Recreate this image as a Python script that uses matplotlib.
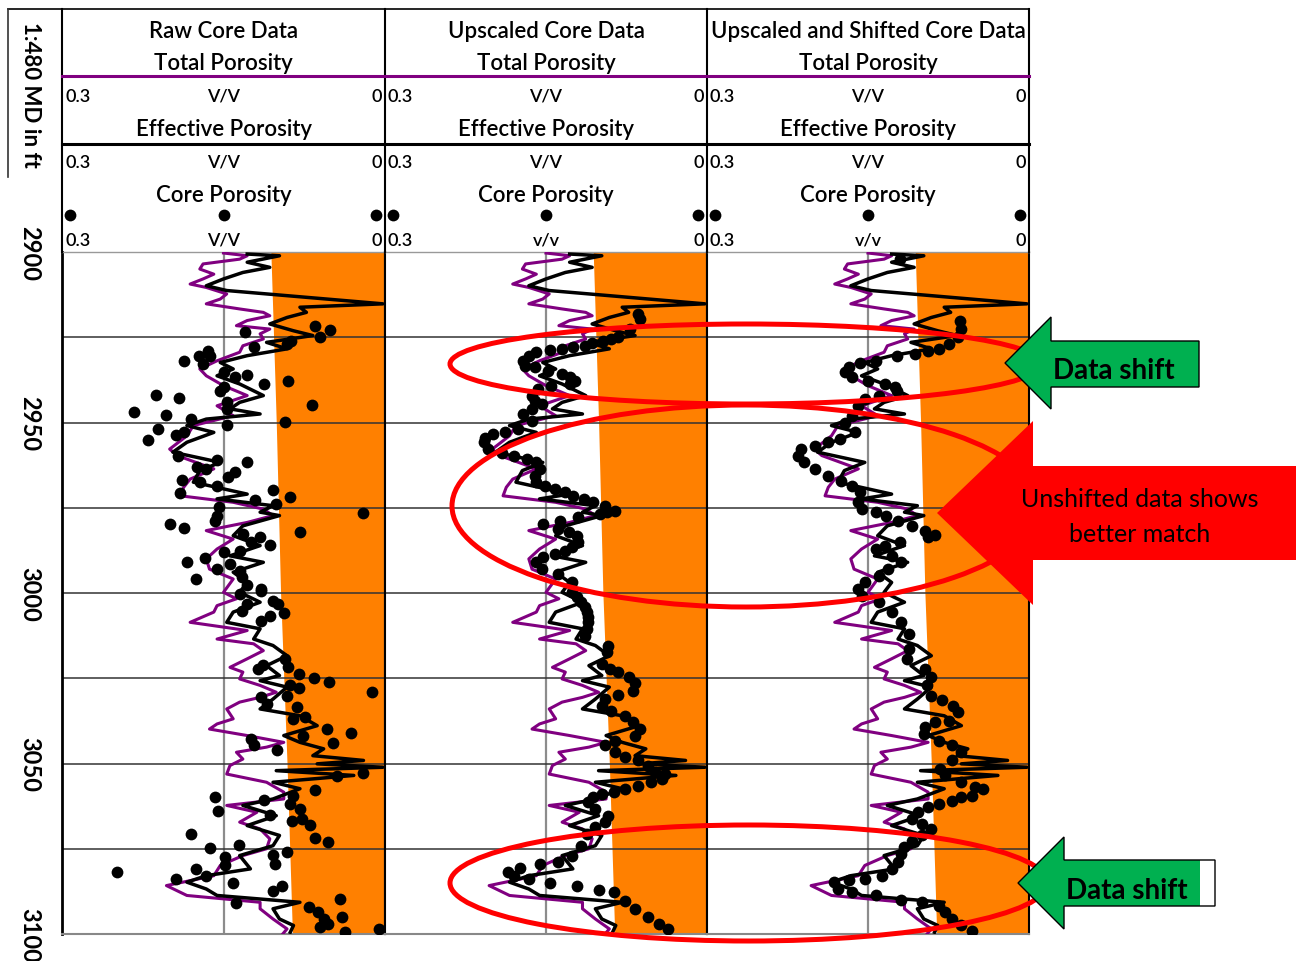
import matplotlib.pyplot as plt
from matplotlib.patches import Ellipse, Polygon, Rectangle

plt.rcParams['font.family'] = ['Lato', 'DejaVu Sans']

W, H = 1296, 962

# total porosity log (purple)
tpor_depth = [2900.3, 2901.1, 2902.1, 2903.5, 2905.0, 2906.5, 2907.9, 2909.4, 2910.4, 2912.3,
              2913.8, 2915.2, 2916.7, 2917.7, 2918.7, 2920.1, 2921.6, 2922.6, 2924.0, 2925.5,
              2927.5, 2929.4, 2931.9, 2934.3, 2936.3, 2939.2, 2942.1, 2945.1, 2948.0, 2950.9,
              2953.9, 2957.8, 2959.7, 2963.6, 2966.6, 2969.0, 2971.5, 2973.4, 2975.4, 2977.3,
              2979.3, 2981.7, 2984.2, 2987.1, 2990.0, 2993.0, 2995.9, 2999.8, 3001.7, 3003.7,
              3005.6, 3008.6, 3010.0, 3011.0, 3013.5, 3014.9, 3016.9, 3019.3, 3021.8, 3023.2,
              3025.2, 3027.1, 3029.1, 3030.6, 3032.0, 3034.0, 3036.9, 3038.4, 3039.9, 3041.8,
              3043.8, 3045.2, 3046.7, 3048.7, 3050.6, 3053.1, 3055.5, 3058.4, 3060.4, 3062.3,
              3064.3, 3067.2, 3069.2, 3072.1, 3075.0, 3077.0, 3079.9, 3082.9, 3085.8, 3088.7,
              3090.7, 3092.6, 3095.6, 3098.5, 3100.0]
tpor = [0.150, 0.128, 0.135, 0.169, 0.172, 0.159, 0.169, 0.181, 0.166, 0.147,
        0.153, 0.166, 0.135, 0.113, 0.107, 0.128, 0.138, 0.107, 0.116, 0.113,
        0.132, 0.135, 0.156, 0.172, 0.166, 0.150, 0.128, 0.156, 0.141, 0.178,
        0.184, 0.200, 0.193, 0.159, 0.181, 0.187, 0.190, 0.141, 0.113, 0.104,
        0.128, 0.166, 0.141, 0.156, 0.166, 0.163, 0.141, 0.150, 0.138, 0.156,
        0.159, 0.181, 0.150, 0.128, 0.156, 0.122, 0.113, 0.128, 0.144, 0.132,
        0.135, 0.116, 0.101, 0.116, 0.135, 0.147, 0.141, 0.156, 0.163, 0.128,
        0.094, 0.110, 0.138, 0.132, 0.144, 0.147, 0.110, 0.094, 0.094, 0.147,
        0.119, 0.135, 0.116, 0.107, 0.110, 0.132, 0.153, 0.159, 0.203, 0.184,
        0.116, 0.116, 0.104, 0.091, 0.095]

# effective porosity log (black)
epor_depth = [2900.6, 2901.1, 2903.0, 2904.5, 2906.0, 2907.9, 2909.9, 2911.3, 2913.8, 2915.2,
              2916.2, 2917.7, 2919.2, 2921.1, 2923.1, 2924.5, 2926.5, 2928.4, 2930.4, 2932.4,
              2934.3, 2936.3, 2938.7, 2942.1, 2944.1, 2946.0, 2947.5, 2949.0, 2950.9, 2952.9,
              2955.8, 2958.7, 2961.7, 2964.1, 2967.5, 2971.0, 2972.4, 2974.4, 2976.3, 2977.3,
              2980.3, 2983.2, 2986.1, 2989.1, 2991.0, 2993.9, 2996.9, 2999.8, 3002.7, 3005.6,
              3008.6, 3010.5, 3013.5, 3015.4, 3018.4, 3021.3, 3024.2, 3025.7, 3027.6, 3031.1,
              3034.0, 3036.0, 3038.9, 3041.8, 3043.8, 3045.7, 3047.7, 3049.1, 3050.1, 3051.1,
              3052.1, 3053.5, 3055.5, 3057.4, 3060.4, 3062.3, 3065.3, 3068.2, 3071.1, 3074.1,
              3077.0, 3080.9, 3082.9, 3084.8, 3086.8, 3088.7, 3090.7, 3092.6, 3095.6, 3097.5,
              3099.5]
epor = [0.128, 0.098, 0.128, 0.107, 0.132, 0.150, 0.166, 0.147, 0.054, 0.002,
        0.079, 0.073, 0.091, 0.107, 0.085, 0.067, 0.110, 0.091, 0.128, 0.153,
        0.141, 0.156, 0.135, 0.113, 0.135, 0.144, 0.116, 0.166, 0.184, 0.159,
        0.184, 0.197, 0.153, 0.172, 0.178, 0.128, 0.156, 0.104, 0.116, 0.098,
        0.132, 0.141, 0.116, 0.144, 0.113, 0.141, 0.128, 0.135, 0.116, 0.141,
        0.147, 0.116, 0.122, 0.104, 0.091, 0.110, 0.098, 0.116, 0.091, 0.104,
        0.116, 0.079, 0.063, 0.094, 0.079, 0.057, 0.067, 0.020, 0.063, 0.002,
        0.101, 0.029, 0.104, 0.079, 0.104, 0.132, 0.101, 0.128, 0.098, 0.104,
        0.135, 0.125, 0.166, 0.184, 0.166, 0.156, 0.079, 0.104, 0.098, 0.085,
        0.088]

# porosity cutoff, shaded towards zero
cutoff_depth = [2900, 2950, 3000, 3050, 3100]
cutoff = [0.106, 0.101, 0.097, 0.091, 0.086]

# raw core plugs
raw_depth = [2923.6, 2928.0, 2921.6, 2922.8, 2925.0, 2927.0, 2926.0, 2928.9, 2930.4, 2931.9,
             2930.6, 2932.8, 2935.1, 2936.8, 2936.1, 2938.7, 2937.9, 2940.7, 2939.7, 2941.8,
             2942.9, 2946.8, 2947.8, 2949.0, 2943.9, 2946.0, 2950.7, 2949.8, 2944.8, 2951.9,
             2955.0, 2953.7, 2952.7, 2959.7, 2960.9, 2961.7, 2963.1, 2963.6, 2966.1, 2964.6,
             2966.9, 2967.5, 2968.7, 2970.8, 2969.7, 2971.9, 2972.6, 2973.9, 2974.9, 2977.3,
             2978.8, 2979.8, 2981.0, 2982.0, 2976.5, 2982.7, 2983.7, 2985.1, 2985.8, 2987.6,
             2988.1, 2990.8, 2989.8, 2993.0, 2991.5, 2993.5, 2995.9, 2995.4, 2997.8, 2998.8,
             2999.3, 3000.3, 3003.2, 3002.2, 3003.2, 3005.8, 3008.1, 3006.6, 3005.2, 3019.5,
             3021.8, 3022.3, 3021.1, 3023.9, 3024.9, 3026.0, 3029.1, 3027.1, 3027.9, 3030.1,
             3030.6, 3032.5, 3033.5, 3036.4, 3036.9, 3039.9, 3041.0, 3041.8, 3044.0, 3042.8,
             3044.7, 3046.0, 3053.7, 3052.9, 3057.9, 3059.4, 3059.9, 3063.8, 3060.7, 3065.0,
             3061.9, 3063.3, 3066.3, 3067.0, 3068.0, 3071.8, 3073.1, 3070.6, 3074.9, 3073.9,
             3077.5, 3076.0, 3076.8, 3079.4, 3079.9, 3080.9, 3081.9, 3082.9, 3083.8, 3085.0,
             3087.3, 3085.8, 3089.7, 3091.0, 3092.2, 3093.6, 3095.6, 3095.1, 3097.0, 3098.0,
             3099.5, 3098.5]
raw_phi = [0.130, 0.122, 0.065, 0.051, 0.060, 0.091, 0.087, 0.164, 0.163, 0.187,
           0.173, 0.169, 0.150, 0.139, 0.128, 0.112, 0.090, 0.153, 0.150, 0.213,
           0.191, 0.233, 0.203, 0.180, 0.147, 0.147, 0.147, 0.093, 0.068, 0.211,
           0.220, 0.194, 0.187, 0.192, 0.156, 0.128, 0.175, 0.166, 0.146, 0.139,
           0.189, 0.172, 0.156, 0.190, 0.104, 0.088, 0.121, 0.101, 0.154, 0.156,
           0.158, 0.200, 0.187, 0.079, 0.020, 0.132, 0.116, 0.124, 0.107, 0.135,
           0.150, 0.184, 0.167, 0.156, 0.144, 0.135, 0.176, 0.133, 0.128, 0.115,
           0.115, 0.135, 0.128, 0.104, 0.099, 0.094, 0.115, 0.107, 0.133, 0.093,
           0.090, 0.118, 0.113, 0.080, 0.066, 0.052, 0.012, 0.088, 0.080, 0.091,
           0.115, 0.110, 0.082, 0.074, 0.085, 0.054, 0.032, 0.076, 0.048, 0.124,
           0.122, 0.100, 0.045, 0.020, 0.065, 0.085, 0.158, 0.155, 0.112, 0.107,
           0.088, 0.079, 0.077, 0.086, 0.070, 0.065, 0.053, 0.180, 0.163, 0.136,
           0.149, 0.091, 0.104, 0.102, 0.149, 0.176, 0.249, 0.166, 0.194, 0.141,
           0.104, 0.096, 0.042, 0.138, 0.071, 0.062, 0.057, 0.040, 0.053, 0.060,
           0.037, 0.006]

# upscaled core
up_depth = [2918.2, 2919.6, 2922.6, 2925.0, 2925.5, 2926.0, 2926.7, 2927.5, 2928.0, 2928.4,
            2928.6, 2929.4, 2930.4, 2931.9, 2933.3, 2933.8, 2934.8, 2935.8, 2936.8, 2937.7,
            2938.7, 2939.2, 2940.2, 2942.1, 2943.6, 2944.6, 2946.0, 2947.5, 2949.5, 2951.9,
            2952.7, 2953.4, 2954.4, 2955.8, 2957.8, 2958.9, 2959.7, 2960.7, 2961.7, 2963.6,
            2965.6, 2967.5, 2968.7, 2969.5, 2970.5, 2971.7, 2972.4, 2973.2, 2974.4, 2975.9,
            2976.3, 2976.8, 2977.6, 2978.8, 2979.8, 2981.2, 2982.2, 2983.2, 2985.1, 2986.6,
            2987.6, 2988.6, 2989.5, 2991.0, 2993.0, 2994.4, 2996.9, 2999.8, 3001.2, 3002.7,
            3004.2, 3005.6, 3007.1, 3008.6, 3010.5, 3012.5, 3015.4, 3017.4, 3020.8, 3022.3,
            3023.2, 3024.7, 3026.4, 3028.6, 3029.9, 3031.1, 3033.0, 3034.5, 3036.0, 3037.9,
            3039.9, 3041.8, 3043.3, 3044.7, 3046.7, 3048.2, 3049.1, 3050.6, 3052.4, 3053.1,
            3054.5, 3055.5, 3056.5, 3057.4, 3058.4, 3058.9, 3059.9, 3061.4, 3063.3, 3065.3,
            3067.2, 3068.7, 3070.6, 3074.1, 3077.0, 3079.0, 3079.4, 3080.7, 3081.9, 3082.9,
            3083.8, 3085.0, 3085.8, 3087.0, 3087.8, 3090.2, 3092.6, 3095.1, 3097.0, 3098.5]
up_phi = [0.064, 0.062, 0.072, 0.083, 0.089, 0.097, 0.107, 0.114, 0.125, 0.135,
          0.146, 0.159, 0.166, 0.171, 0.170, 0.160, 0.148, 0.135, 0.128, 0.123,
          0.128, 0.145, 0.157, 0.163, 0.160, 0.154, 0.163, 0.171, 0.163, 0.176,
          0.188, 0.199, 0.207, 0.208, 0.204, 0.191, 0.180, 0.168, 0.159, 0.156,
          0.160, 0.159, 0.151, 0.142, 0.132, 0.125, 0.115, 0.106, 0.095, 0.086,
          0.093, 0.100, 0.120, 0.137, 0.153, 0.139, 0.129, 0.121, 0.120, 0.126,
          0.132, 0.142, 0.153, 0.159, 0.154, 0.139, 0.126, 0.126, 0.121, 0.117,
          0.114, 0.112, 0.111, 0.111, 0.112, 0.114, 0.092, 0.093, 0.098, 0.090,
          0.083, 0.073, 0.067, 0.069, 0.083, 0.095, 0.098, 0.089, 0.076, 0.069,
          0.062, 0.067, 0.086, 0.095, 0.086, 0.076, 0.064, 0.055, 0.048, 0.039,
          0.042, 0.052, 0.064, 0.076, 0.087, 0.098, 0.106, 0.111, 0.104, 0.092,
          0.095, 0.104, 0.112, 0.117, 0.126, 0.139, 0.156, 0.174, 0.185, 0.180,
          0.166, 0.146, 0.121, 0.101, 0.087, 0.076, 0.067, 0.055, 0.045, 0.036]

# upscaled core after depth shift
shift_depth = [2902.1, 2920.1, 2922.6, 2925.0, 2927.0, 2928.3, 2928.9, 2929.9, 2930.6, 2931.9,
               2932.6, 2933.8, 2935.3, 2936.8, 2937.7, 2938.7, 2939.7, 2940.7, 2942.1, 2943.1,
               2945.1, 2948.0, 2950.0, 2952.9, 2954.8, 2955.8, 2956.8, 2957.8, 2959.7, 2961.7,
               2963.6, 2965.6, 2967.1, 2968.5, 2970.5, 2973.4, 2975.4, 2976.3, 2977.3, 2978.8,
               2980.3, 2981.7, 2983.0, 2983.7, 2984.9, 2986.1, 2987.1, 2989.1, 2991.0, 2993.0,
               2994.9, 2996.9, 2998.8, 3000.8, 3002.7, 3005.6, 3008.6, 3012.0, 3016.4, 3019.3,
               3022.3, 3024.7, 3027.1, 3030.1, 3031.5, 3033.0, 3035.0, 3037.4, 3037.9, 3039.4,
               3041.3, 3043.3, 3044.7, 3046.7, 3049.1, 3051.6, 3053.5, 3055.5, 3057.0, 3057.4,
               3059.4, 3059.9, 3060.9, 3061.8, 3062.8, 3064.3, 3066.2, 3067.7, 3069.2, 3071.1,
               3072.6, 3074.6, 3076.5, 3079.0, 3080.9, 3082.9, 3083.8, 3084.3, 3084.8, 3086.8,
               3087.8, 3088.7, 3089.9, 3090.7, 3091.7, 3093.6, 3095.6, 3097.5, 3099.0]
shift_phi = [0.120, 0.064, 0.063, 0.066, 0.075, 0.084, 0.094, 0.106, 0.123, 0.143,
             0.157, 0.168, 0.171, 0.165, 0.150, 0.134, 0.125, 0.123, 0.140, 0.153,
             0.159, 0.165, 0.171, 0.162, 0.176, 0.187, 0.199, 0.212, 0.215, 0.210,
             0.199, 0.187, 0.175, 0.165, 0.157, 0.159, 0.156, 0.143, 0.133, 0.122,
             0.109, 0.097, 0.088, 0.094, 0.120, 0.134, 0.143, 0.128, 0.119, 0.131,
             0.140, 0.153, 0.159, 0.156, 0.140, 0.128, 0.119, 0.112, 0.112, 0.114,
             0.097, 0.091, 0.095, 0.091, 0.081, 0.071, 0.066, 0.075, 0.088, 0.097,
             0.098, 0.084, 0.072, 0.063, 0.072, 0.083, 0.078, 0.063, 0.050, 0.043,
             0.053, 0.063, 0.072, 0.084, 0.094, 0.103, 0.109, 0.100, 0.091, 0.100,
             0.109, 0.116, 0.119, 0.122, 0.128, 0.137, 0.153, 0.168, 0.182, 0.178,
             0.165, 0.143, 0.119, 0.100, 0.084, 0.078, 0.072, 0.063, 0.053]

titles = ['Raw Core Data', 'Upscaled Core Data', 'Upscaled and Shifted Core Data']
core_units = ['V/V', 'v/v', 'v/v']
core_sets = [(raw_depth, raw_phi), (up_depth, up_phi), (shift_depth, shift_phi)]
depth_ticks = [2900, 2925, 2950, 2975, 3000, 3025, 3050, 3075, 3100]
depth_labels = ['2900', '', '2950', '', '3000', '', '3050', '', '3100']

edges = [62, 385, 707, 1029]
top_px, bot_px = 253, 935
ORANGE = '#FF8000'
PURPLE = '#800080'

fig = plt.figure(figsize=(W / 100, H / 100), dpi=100)


def px_axes(x0, x1, y0, y1, **kw):
    return fig.add_axes([x0 / W, 1 - y1 / H, (x1 - x0) / W, (y1 - y0) / H], **kw)


for i in range(3):
    ax = px_axes(edges[i], edges[i + 1], top_px, bot_px)
    ax.fill_betweenx(cutoff_depth, cutoff, 0, color=ORANGE, lw=0, zorder=1)
    ax.plot(tpor, tpor_depth, color=PURPLE, lw=2.2, zorder=3)
    ax.plot(epor, epor_depth, color='black', lw=2.5, zorder=4)
    cd, cp = core_sets[i]
    ax.scatter(cp, cd, s=72, color='black', lw=0, zorder=5)
    ax.set_xlim(0.3, 0)
    ax.set_ylim(3100, 2900)
    ax.set_xticks([0.15])
    ax.set_yticks(depth_ticks)
    ax.grid(True, axis='y', color='#333333', lw=1.1)
    ax.grid(True, axis='x', color='#8c8c8c', lw=1.6)
    ax.tick_params(length=0, labelbottom=False, labelleft=False)
    for s in ['left', 'right']:
        ax.spines[s].set_color('black')
        ax.spines[s].set_linewidth(1.5)
    ax.spines['top'].set_color('#999999')
    ax.spines['top'].set_linewidth(1.0)
    ax.spines['bottom'].set_color('#888888')
    ax.spines['bottom'].set_linewidth(1.5)
    if i == 0:
        ax.spines['left'].set_linewidth(2.0)
        ax.set_yticklabels(depth_labels, rotation=270, va='center', ha='center',
                           fontsize=17, fontweight='bold')
        ax.tick_params(axis='y', labelleft=True, pad=23)

# header, annotations
ov = fig.add_axes([0, 0, 1, 1], zorder=10)
ov.set_xlim(0, W)
ov.set_ylim(H, 0)
ov.axis('off')

ov.plot([8, 1029], [10, 10], color='black', lw=1.2)
ov.plot([8, 8], [10, 178], color='#333333', lw=1.2)
for x in edges:
    ov.plot([x, x], [10, top_px], color='black', lw=1.5)
ov.plot([62, 1029], [77, 77], color=PURPLE, lw=2.2)
ov.plot([62, 1029], [145, 145], color='black', lw=2.2)

ov.text(30, 95, '1:480 MD in ft', rotation=270, ha='center', va='center',
        fontsize=16, fontweight='bold')

hdr = dict(ha='center', va='center', fontsize=16, fontweight='semibold')
scale = dict(va='center', fontsize=13, fontweight='semibold')
for i in range(3):
    x0, x1 = edges[i], edges[i + 1]
    xc = (x0 + x1) / 2
    ov.text(xc, 31, titles[i], **hdr)
    ov.text(xc, 63, 'Total Porosity', **hdr)
    ov.text(xc, 130, 'Effective Porosity', **hdr)
    ov.text(xc, 196, 'Core Porosity', **hdr)
    for y, unit in [(97, 'V/V'), (163, 'V/V'), (241, core_units[i])]:
        ov.text(x0 + 3, y, '0.3', ha='left', **scale)
        ov.text(xc, y, unit, ha='center', **scale)
        ov.text(x1 - 3, y, '0', ha='right', **scale)
    ov.scatter([x0 + 8, xc, x1 - 9], [216, 216, 216], s=72, color='black', lw=0)

# highlighted zones
for cx, cy, a, b in [(746, 365, 296, 40), (746, 507, 294, 101), (749, 884, 299, 58)]:
    ov.add_patch(Ellipse((cx, cy), 2 * a, 2 * b, fill=False, ec='#FF0000', lw=3.6, zorder=2))

GREEN = '#00B050'
ov.add_patch(Polygon([(1005, 364), (1051, 318), (1051, 342), (1199, 342), (1199, 388),
                      (1051, 388), (1051, 410)], closed=True, fc=GREEN, ec='black', lw=1, zorder=3))
ov.text(1114, 371, 'Data shift', ha='center', va='center', fontsize=20, fontweight='bold', zorder=4)

arrow2 = [(1018, 884), (1064, 838), (1064, 861), (1215, 861), (1215, 907), (1064, 907), (1064, 930)]
ov.add_patch(Polygon(arrow2, closed=True, fc=GREEN, ec='none', zorder=3))
ov.add_patch(Rectangle((1200, 861), 15, 46, fc='white', ec='none', zorder=3))
ov.add_patch(Polygon(arrow2, closed=True, fill=False, ec='black', lw=1, zorder=3))
ov.text(1127, 891, 'Data shift', ha='center', va='center', fontsize=20, fontweight='bold', zorder=4)

ov.add_patch(Polygon([(937, 514), (1033, 422), (1033, 467), (1296, 467), (1296, 561),
                      (1033, 561), (1033, 606)], closed=True, fc='#FF0000', ec='none', zorder=3))
ov.text(1140, 500, 'Unshifted data shows', ha='center', va='center', fontsize=18, zorder=4)
ov.text(1140, 535, 'better match', ha='center', va='center', fontsize=18, zorder=4)

fig.savefig('out.png', dpi=100)
